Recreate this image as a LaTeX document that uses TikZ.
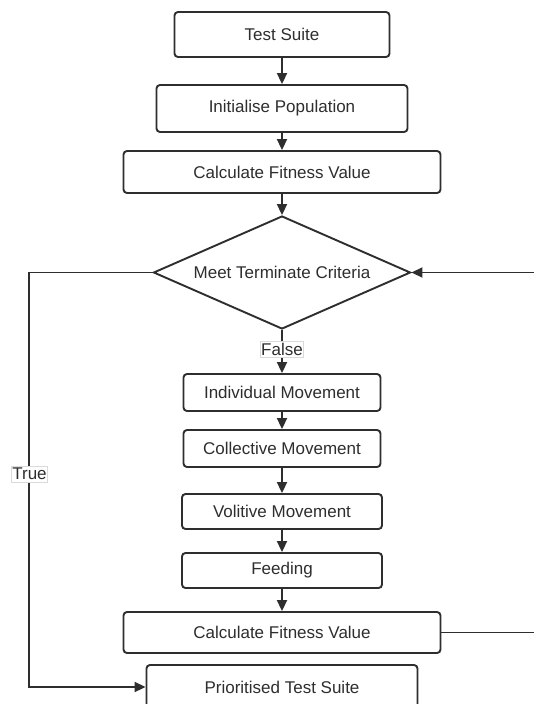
\documentclass[tikz,border=0pt]{standalone}
\usepackage{fontspec}
\setmainfont{Liberation Sans}
\usetikzlibrary{shapes.geometric,arrows.meta}
\definecolor{ink}{HTML}{2E2E2E}
\definecolor{lblborder}{HTML}{DADADA}
\tikzset{
  base/.style={draw=ink, line width=1.9pt, text=ink, font=\fontsize{17}{20}\selectfont},
  procbox/.style={base, rectangle, rounded corners=3.5pt, inner sep=0pt},
  decision/.style={base, diamond, inner sep=0pt, shape aspect=2.27,
    minimum width=257pt, minimum height=113pt},
  flow/.style={draw=ink, line width=1.9pt, -{Triangle[length=11pt,width=10pt]}},
  plainline/.style={draw=ink, line width=1.9pt},
  lbl/.style={draw=lblborder, line width=0.6pt, fill=white, text=ink,
    inner xsep=1pt, inner ysep=2pt, font=\fontsize{17}{20}\selectfont}
}
\begin{document}
\begin{tikzpicture}[x=1pt, y=-1pt]
  \clip (0,0) rectangle (534,704);
  \fill[white] (0,0) rectangle (534,704);

  % main column of steps
  \node[procbox, minimum width=215pt, minimum height=45pt] (ts)  at (282,34.5)  {Test Suite};
  \node[procbox, minimum width=251pt, minimum height=47pt] (ip)  at (282,108.5) {Initialise Population};
  \node[procbox, minimum width=317pt, minimum height=42pt] (cf1) at (282,172)   {Calculate Fitness Value};
  \node[decision] (dm) at (282,272.5) {Meet Terminate Criteria};
  \node[procbox, minimum width=197pt, minimum height=37pt] (im)  at (282,392.5) {Individual Movement};
  \node[procbox, minimum width=197pt, minimum height=37pt] (cm)  at (282,448.5) {Collective Movement};
  \node[procbox, minimum width=200pt, minimum height=35pt] (vm)  at (282,511.5) {Volitive Movement};
  \node[procbox, minimum width=200pt, minimum height=35pt] (fd)  at (282,570.5) {Feeding};
  \node[procbox, minimum width=317pt, minimum height=41pt] (cf2) at (282,632.5) {Calculate Fitness Value};
  \node[procbox, minimum width=271pt, minimum height=44pt] (pts) at (282,687)   {Prioritised Test Suite};

  % straight-down connectors
  \draw[flow] (ts.south)  -- (ip.north);
  \draw[flow] (ip.south)  -- (cf1.north);
  \draw[flow] (cf1.south) -- (dm.north);
  \draw[flow] (dm.south)  -- node[lbl, pos=0.45] (fl) {False} (im.north);
  \draw[flow] (im.south)  -- (cm.north);
  \draw[flow] (cm.south)  -- (vm.north);
  \draw[flow] (vm.south)  -- (fd.north);
  \draw[flow] (fd.south)  -- (cf2.north);

  % exit branch on the left
  \coordinate (tl) at (29,272.5);
  \coordinate (bl) at (29,687);
  \draw[flow] (dm.west) -- (tl) -- (bl) -- (pts.west);
  \node[lbl] (tr) at (29.5,474) {True};

  % feedback loop on the right
  \coordinate (rb) at (534,632.5);
  \coordinate (rt) at (534,272.5);
  \draw[plainline] (cf2.east) -- (rb);
  \draw[flow] (rt) -- (dm.east);
\end{tikzpicture}
\end{document}
